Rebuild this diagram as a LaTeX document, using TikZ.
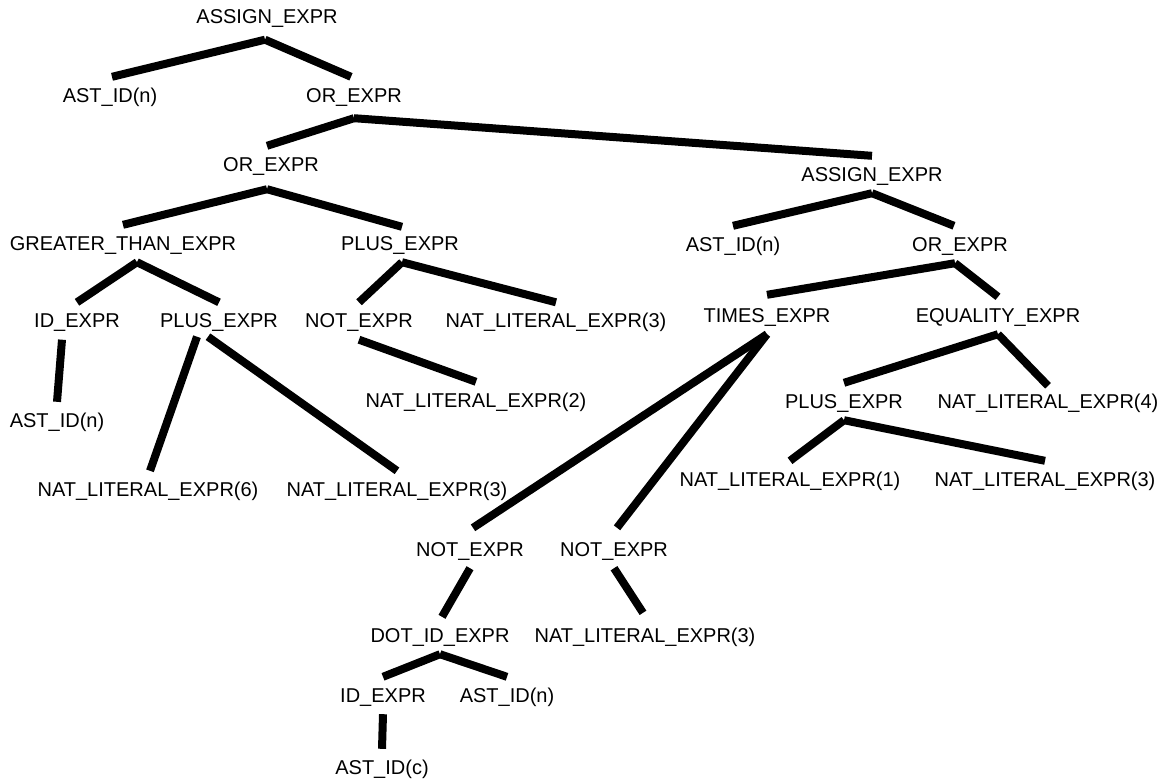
\documentclass[tikz,border=0pt]{standalone}
\usepackage{fontspec}
\setmainfont{Liberation Sans}
\usepackage{tikz}
\usetikzlibrary{positioning}
\tikzset{
    mynode/.style = {inner sep=0pt, anchor=base, text height=25pt, text depth=12pt},
    edgen/.style = {line width=8pt, black},
    every picture/.style={font issue=\fontsize{20}{24}},
    font issue/.style={execute at begin picture={#1\selectfont}
  }
}
\begin{document}
\begin{tikzpicture}[x=1pt, y=-1pt]
  \useasboundingbox (0,0) rectangle (1167,780);

  % labels
  \node[mynode] (a0) at (267,23.5) {ASSIGN\_EXPR};
  \node[mynode] (a1) at (110,102) {AST\_ID(n)};
  \node[mynode] (o1) at (354,102) {OR\_EXPR};
  \node[mynode] (o2) at (271,171) {OR\_EXPR};
  \node[mynode] (a2) at (872,181) {ASSIGN\_EXPR};
  \node[mynode] (gt) at (123,250) {GREATER\_THAN\_EXPR};
  \node[mynode] (p1) at (400,250) {PLUS\_EXPR};
  \node[mynode] (a3) at (733,251) {AST\_ID(n)};
  \node[mynode] (o3) at (960,251) {OR\_EXPR};
  \node[mynode] (id1) at (77,327.5) {ID\_EXPR};
  \node[mynode] (p2) at (219,327.5) {PLUS\_EXPR};
  \node[mynode] (nt0) at (359,327.5) {NOT\_EXPR};
  \node[mynode] (nl3a) at (556,327.5) {NAT\_LITERAL\_EXPR(3)};
  \node[mynode] (tm) at (767,322) {TIMES\_EXPR};
  \node[mynode] (eq) at (998,322) {EQUALITY\_EXPR};
  \node[mynode] (a4) at (57,427) {AST\_ID(n)};
  \node[mynode] (nl2) at (476,407) {NAT\_LITERAL\_EXPR(2)};
  \node[mynode] (p3) at (844,408) {PLUS\_EXPR};
  \node[mynode] (nl4) at (1048,408) {NAT\_LITERAL\_EXPR(4)};
  \node[mynode] (nl6) at (148,496) {NAT\_LITERAL\_EXPR(6)};
  \node[mynode] (nl3b) at (397,496) {NAT\_LITERAL\_EXPR(3)};
  \node[mynode] (nl1) at (790,486) {NAT\_LITERAL\_EXPR(1)};
  \node[mynode] (nl3c) at (1045,486) {NAT\_LITERAL\_EXPR(3)};
  \node[mynode] (nt1) at (470,556) {NOT\_EXPR};
  \node[mynode] (nt2) at (614,556) {NOT\_EXPR};
  \node[mynode] (dt) at (440,642) {DOT\_ID\_EXPR};
  \node[mynode] (nl3d) at (645,642) {NAT\_LITERAL\_EXPR(3)};
  \node[mynode] (id2) at (383,702) {ID\_EXPR};
  \node[mynode] (a5) at (507,702) {AST\_ID(n)};
  \node[mynode] (a6) at (382,774) {AST\_ID(c)};

  % edges
  \draw[edgen] ([shift={(-2,4)}]a0.south) -- ([xshift=2pt]a1.north);
  \draw[edgen] ([shift={(-2,4)}]a0.south) -- ([xshift=-3pt]o1.north);
  \draw[edgen] ([yshift=-4pt]o1.south) -- ([xshift=-4pt]o2.north);
  \draw[edgen] ([yshift=-4pt]o1.south) -- (a2.north);
  \draw[edgen] ([shift={(-4,6)}]o2.south) -- (gt.north);
  \draw[edgen] ([shift={(-4,6)}]o2.south) -- ([shift={(2,2)}]p1.north);
  \draw[edgen] ([xshift=14pt]gt.south) -- (id1.north);
  \draw[edgen] ([xshift=14pt]gt.south) -- (p2.north);
  \draw[edgen] ([xshift=2pt]p1.south) -- (nt0.north);
  \draw[edgen] ([xshift=2pt]p1.south) -- (nl3a.north);
  \draw[edgen] (a2.south) -- (a3.north);
  \draw[edgen] (a2.south) -- ([xshift=-6pt]o3.north);
  \draw[edgen] ([xshift=-5pt]o3.south) -- ([yshift=2pt]tm.north);
  \draw[edgen] ([xshift=-5pt]o3.south) -- (eq.north);
  \draw[edgen] ([xshift=-15pt]id1.south) -- (a4.north);
  \draw[edgen] ([shift={(-22,-3)}]p2.south) -- ([xshift=2pt]nl6.north);
  \draw[edgen] ([shift={(-11,-3)}]p2.south) -- (nl3b.north);
  \draw[edgen] (nt0.south) -- (nl2.north);
  \draw[edgen] (tm.south) -- ([shift={(3,-3)}]nt1.north);
  \draw[edgen] (tm.south) -- ([shift={(3,-3)}]nt2.north);
  \draw[edgen] (eq.south) -- (p3.north);
  \draw[edgen] (eq.south) -- ([yshift=-3pt]nl4.north);
  \draw[edgen] (p3.south) -- (nl1.north);
  \draw[edgen] (p3.south) -- (nl3c.north);
  \draw[edgen] (nt1.south) -- ([xshift=2pt]dt.north);
  \draw[edgen] (nt2.south) -- ([shift={(-2,-4)}]nl3d.north);
  \draw[edgen] (dt.south) -- (id2.north);
  \draw[edgen] (dt.south) -- (a5.north);
  \draw[edgen] (id2.south) -- (a6.north);

\end{tikzpicture}
\end{document}
